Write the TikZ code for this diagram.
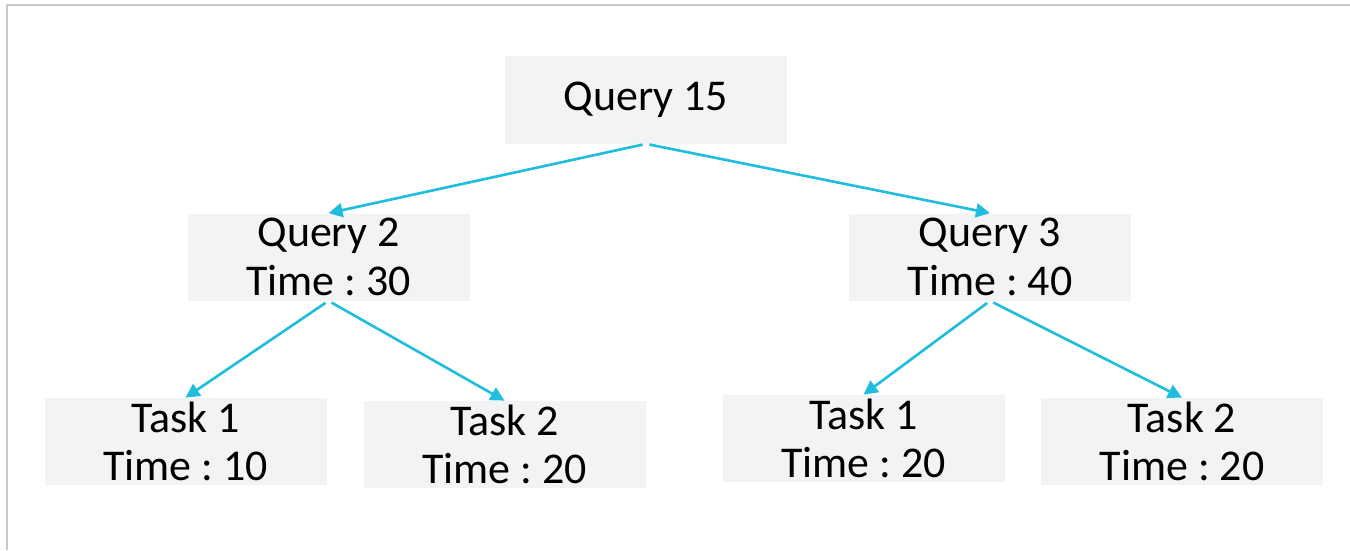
\documentclass[tikz,border=0pt]{standalone}
\usepackage{fontspec}
\setmainfont{Carlito}
\usetikzlibrary{arrows.meta}
\definecolor{boxgray}{RGB}{242,243,245}
\definecolor{linkcyan}{RGB}{32,190,220}
\definecolor{framegray}{RGB}{200,200,200}
\frenchspacing
\begin{document}
\begin{tikzpicture}
    \useasboundingbox (0,0) rectangle (27,-11);
    \draw [framegray, line width=0.6pt] (0.14,-11) -- (0.14,-0.1) -- (27,-0.1);

    \begin{scope}[every node/.style={rectangle, fill=boxgray, minimum width=5.64cm, minimum height=1.74cm, inner sep=0pt, align=center, font=\fontsize{25}{27.5}\selectfont}]
        \node (1) at (12.92,-2.0) {Query 15};
        \node (2) at (6.57,-5.14) {Query 2\\Time : 30};
        \node (3) at (19.8,-5.14) {Query 3\\Time : 40};
        \node (4) at (3.71,-8.83) {Task 1\\Time : 10};
        \node (5) at (10.09,-8.89) {Task 2\\Time : 20};
        \node (6) at (17.27,-8.77) {Task 1\\Time : 20};
        \node (7) at (23.64,-8.83) {Task 2\\Time : 20};
    \end{scope}

    \begin{scope}[every edge/.style={draw, linkcyan, line width=1.5pt, shorten <=2pt}]
        \path [-{Triangle[length=8pt,width=8pt]}] (1.south) edge (2.north);
        \path [-{Triangle[length=8pt,width=8pt]}] (1.south) edge (3.north);
        \path [-{Triangle[length=8pt,width=8pt]}] (2.south) edge (4.north);
        \path [-{Triangle[length=8pt,width=8pt]}] (2.south) edge (5.north);
        \path [-{Triangle[length=8pt,width=8pt]}] (3.south) edge (6.north);
        \path [-{Triangle[length=8pt,width=8pt]}] (3.south) edge (7.north);
    \end{scope}
\end{tikzpicture}
\end{document}
